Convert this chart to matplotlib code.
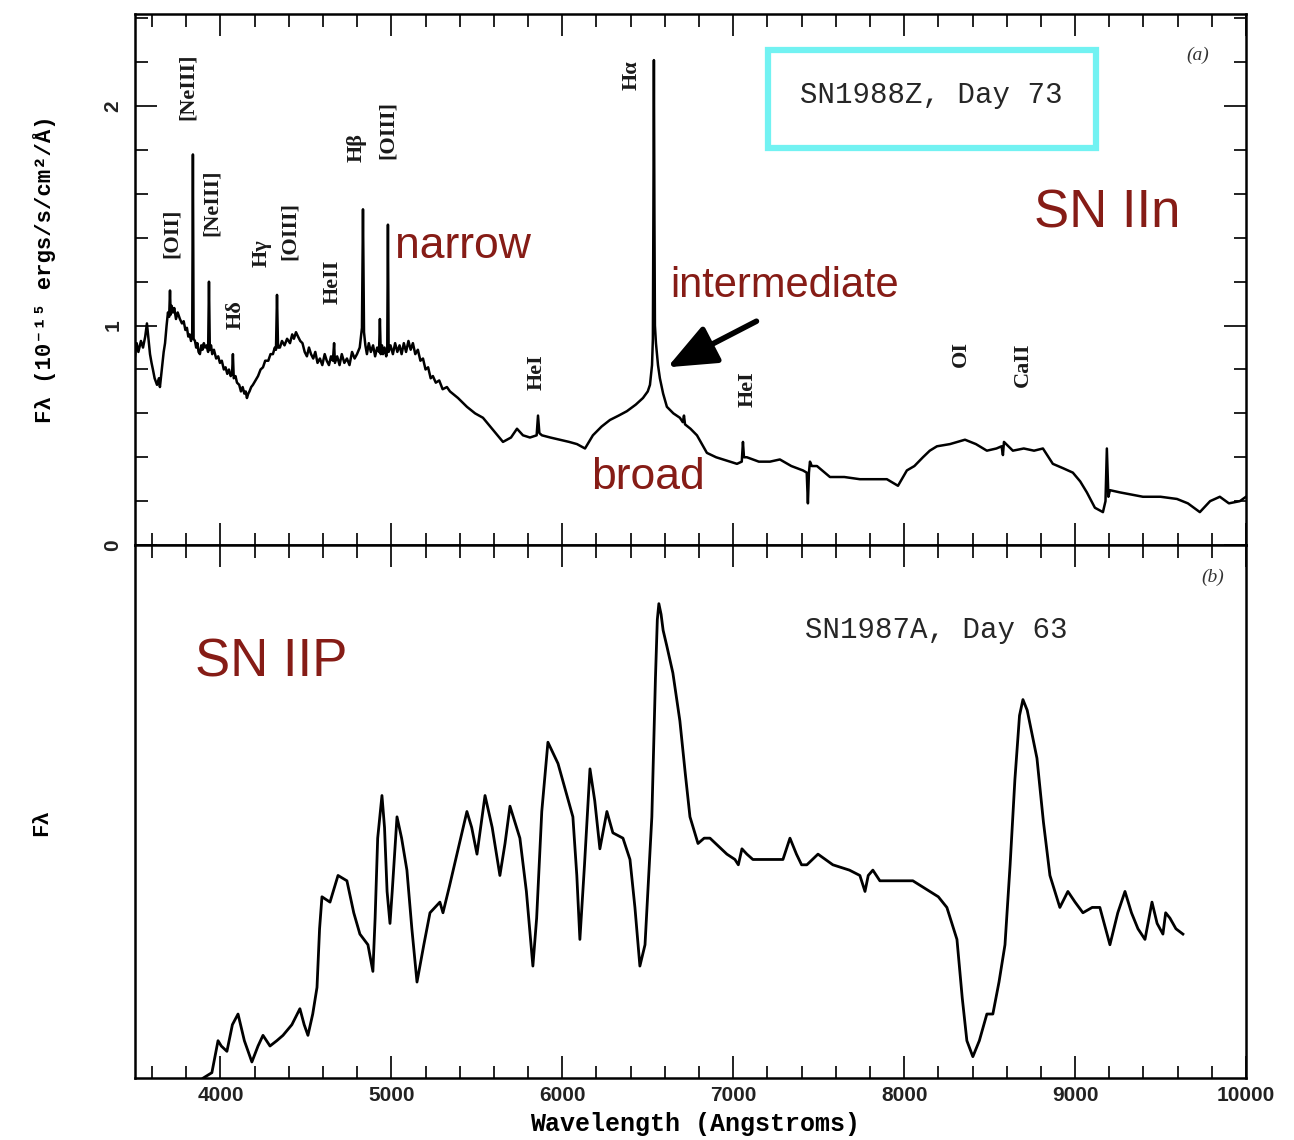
import matplotlib
matplotlib.use('Agg')
import matplotlib.pyplot as plt
from matplotlib.ticker import MultipleLocator
from matplotlib.patches import Rectangle
from matplotlib import font_manager

# ---------------- data: SN1988Z, day 73 (top panel) ----------------
top_wave = [3500, 3510, 3520, 3535, 3547, 3560, 3570, 3580, 3588, 3597,
            3605, 3615, 3629, 3640, 3646, 3660, 3668, 3676, 3685, 3693,
            3700, 3705, 3709, 3715, 3722, 3730, 3740, 3750, 3763, 3775,
            3785, 3795, 3804, 3812, 3820, 3828, 3835, 3839, 3843, 3851,
            3858, 3865, 3872, 3880, 3888, 3895, 3903, 3910, 3920, 3928,
            3933, 3938, 3945, 3952, 3962, 3975, 3987, 3997, 4008, 4020,
            4030, 4040, 4050, 4060, 4068, 4073, 4078, 4088, 4097, 4110,
            4120, 4130, 4140, 4148, 4155, 4163, 4170, 4180, 4190, 4205,
            4220, 4235, 4249, 4262, 4280, 4293, 4307, 4318, 4325, 4331,
            4337, 4348, 4360, 4375, 4390, 4407, 4420, 4430, 4442, 4454,
            4467, 4480, 4493, 4506, 4518, 4530, 4543, 4555, 4568, 4582,
            4596, 4610, 4622, 4635, 4647, 4658, 4665, 4670, 4683, 4697,
            4710, 4725, 4740, 4755, 4770, 4785, 4799, 4815, 4828, 4834,
            4840, 4848, 4857, 4868, 4880, 4893, 4905, 4917, 4928, 4933,
            4938, 4945, 4951, 4960, 4970, 4976, 4980, 4984, 4995, 5009,
            5022, 5035, 5048, 5060, 5073, 5086, 5100, 5113, 5126, 5140,
            5155, 5170, 5185, 5200, 5215, 5230, 5243, 5260, 5280, 5300,
            5325, 5343, 5390, 5442, 5490, 5536, 5600, 5653, 5700, 5735,
            5770, 5811, 5850, 5858, 5866, 5881, 5930, 5986, 6040, 6086,
            6133, 6179, 6230, 6279, 6330, 6378, 6430, 6472, 6500, 6513,
            6525, 6530, 6533, 6536, 6539, 6542, 6548, 6560, 6571, 6590,
            6612, 6650, 6688, 6705, 6712, 6718, 6750, 6788, 6846, 6900,
            6940, 6980, 7022, 7050, 7057, 7063, 7080, 7150, 7215, 7273,
            7340, 7408, 7430, 7437, 7443, 7449, 7460, 7490, 7566, 7650,
            7741, 7820, 7899, 7964, 8016, 8060, 8110, 8150, 8192, 8268,
            8356, 8420, 8484, 8540, 8570, 8578, 8584, 8636, 8700, 8760,
            8812, 8870, 8930, 8987, 9030, 9069, 9116, 9163, 9178, 9186,
            9195, 9204, 9262, 9330, 9397, 9500, 9596, 9660, 9730, 9790,
            9847, 9900, 9964, 10000]
top_flux = [0.86, 0.92, 0.88, 0.93, 0.90, 0.95, 1.01, 0.93, 0.87, 0.83,
            0.80, 0.76, 0.73, 0.76, 0.72, 0.82, 0.88, 0.92, 1.00, 1.06,
            1.04, 1.16, 1.05, 1.09, 1.06, 1.08, 1.03, 1.06, 1.03, 1.01,
            1.02, 0.98, 0.99, 0.95, 0.96, 0.93, 0.96, 1.78, 0.94, 0.93,
            0.90, 0.92, 0.88, 0.87, 0.91, 0.89, 0.92, 0.90, 0.91, 0.88,
            1.20, 0.89, 0.91, 0.87, 0.89, 0.85, 0.86, 0.83, 0.84, 0.80,
            0.81, 0.78, 0.80, 0.77, 0.78, 0.87, 0.76, 0.77, 0.74, 0.73,
            0.70, 0.72, 0.69, 0.70, 0.67, 0.69, 0.70, 0.72, 0.73, 0.75,
            0.77, 0.80, 0.81, 0.84, 0.84, 0.87, 0.87, 0.90, 0.89, 1.14,
            0.90, 0.90, 0.93, 0.91, 0.94, 0.92, 0.96, 0.94, 0.97, 0.95,
            0.93, 0.92, 0.88, 0.86, 0.90, 0.87, 0.85, 0.88, 0.83, 0.85,
            0.82, 0.87, 0.84, 0.82, 0.86, 0.84, 0.92, 0.83, 0.86, 0.82,
            0.87, 0.83, 0.85, 0.82, 0.88, 0.85, 0.87, 0.90, 0.99, 1.53,
            0.97, 0.91, 0.87, 0.92, 0.88, 0.91, 0.86, 0.90, 0.88, 1.03,
            0.87, 0.91, 0.87, 0.90, 0.86, 0.89, 1.46, 0.88, 0.91, 0.87,
            0.92, 0.88, 0.91, 0.87, 0.92, 0.88, 0.93, 0.89, 0.92, 0.87,
            0.89, 0.84, 0.85, 0.80, 0.81, 0.76, 0.77, 0.74, 0.75, 0.71,
            0.72, 0.70, 0.67, 0.63, 0.60, 0.58, 0.52, 0.47, 0.49, 0.53,
            0.50, 0.49, 0.50, 0.59, 0.51, 0.50, 0.49, 0.48, 0.47, 0.46,
            0.44, 0.50, 0.54, 0.57, 0.59, 0.61, 0.64, 0.67, 0.70, 0.73,
            0.82, 0.94, 1.50, 2.21, 1.50, 1.00, 0.92, 0.82, 0.76, 0.69,
            0.63, 0.60, 0.58, 0.56, 0.59, 0.55, 0.53, 0.50, 0.42, 0.40,
            0.39, 0.38, 0.37, 0.38, 0.47, 0.40, 0.40, 0.38, 0.38, 0.39,
            0.36, 0.34, 0.33, 0.19, 0.33, 0.38, 0.36, 0.36, 0.31, 0.31,
            0.30, 0.30, 0.30, 0.27, 0.34, 0.36, 0.40, 0.43, 0.45, 0.46,
            0.48, 0.46, 0.43, 0.44, 0.45, 0.41, 0.47, 0.43, 0.44, 0.43,
            0.44, 0.37, 0.35, 0.33, 0.29, 0.24, 0.17, 0.15, 0.20, 0.44,
            0.22, 0.25, 0.24, 0.23, 0.22, 0.22, 0.21, 0.19, 0.15, 0.20,
            0.22, 0.19, 0.20, 0.22]

# ---------------- data: SN1987A, day 63 (bottom panel, arbitrary units) ----------------
bot_wave = [3900, 3950, 3986, 4005, 4038, 4070, 4103, 4140, 4184, 4220,
            4249, 4290, 4330, 4366, 4418, 4465, 4490, 4512, 4540, 4565,
            4580, 4594, 4641, 4688, 4740, 4780, 4816, 4863, 4892, 4905,
            4920, 4945, 4960, 4975, 4992, 5005, 5033, 5060, 5091, 5120,
            5150, 5190, 5226, 5284, 5302, 5340, 5384, 5442, 5470, 5501,
            5548, 5590, 5635, 5665, 5694, 5752, 5790, 5828, 5850, 5880,
            5916, 5975, 6062, 6085, 6103, 6130, 6162, 6190, 6220, 6261,
            6296, 6355, 6396, 6425, 6454, 6484, 6524, 6545, 6556, 6565,
            6578, 6590, 6612, 6647, 6688, 6720, 6747, 6794, 6830, 6864,
            6963, 7010, 7030, 7051, 7080, 7115, 7200, 7291, 7332, 7370,
            7400, 7431, 7496, 7583, 7680, 7741, 7771, 7790, 7817, 7858,
            7950, 8051, 8150, 8200, 8250, 8309, 8340, 8367, 8402, 8440,
            8484, 8519, 8555, 8590, 8620, 8648, 8675, 8695, 8720, 8777,
            8815, 8853, 8911, 8958, 9000, 9046, 9100, 9145, 9204, 9250,
            9292, 9330, 9368, 9409, 9450, 9480, 9514, 9530, 9555, 9590,
            9631]
bot_flux = [0.00, 0.01, 0.07, 0.06, 0.05, 0.10, 0.12, 0.07, 0.03, 0.06,
            0.08, 0.06, 0.07, 0.08, 0.10, 0.13, 0.10, 0.08, 0.12, 0.17,
            0.28, 0.34, 0.33, 0.38, 0.37, 0.31, 0.27, 0.25, 0.20, 0.30,
            0.45, 0.53, 0.47, 0.35, 0.29, 0.35, 0.49, 0.45, 0.39, 0.28,
            0.18, 0.25, 0.31, 0.33, 0.31, 0.36, 0.42, 0.50, 0.47, 0.42,
            0.53, 0.47, 0.38, 0.44, 0.51, 0.45, 0.35, 0.21, 0.30, 0.50,
            0.63, 0.59, 0.49, 0.38, 0.26, 0.40, 0.58, 0.52, 0.43, 0.50,
            0.46, 0.45, 0.41, 0.32, 0.21, 0.25, 0.49, 0.75, 0.86, 0.89,
            0.87, 0.84, 0.81, 0.76, 0.67, 0.57, 0.49, 0.44, 0.45, 0.45,
            0.42, 0.41, 0.40, 0.43, 0.42, 0.41, 0.41, 0.41, 0.45, 0.42,
            0.40, 0.40, 0.42, 0.40, 0.39, 0.38, 0.35, 0.38, 0.39, 0.37,
            0.37, 0.37, 0.35, 0.34, 0.32, 0.26, 0.15, 0.07, 0.04, 0.07,
            0.12, 0.12, 0.18, 0.25, 0.40, 0.56, 0.68, 0.71, 0.69, 0.60,
            0.48, 0.38, 0.32, 0.35, 0.33, 0.31, 0.32, 0.32, 0.25, 0.31,
            0.35, 0.31, 0.28, 0.26, 0.33, 0.29, 0.27, 0.31, 0.30, 0.28,
            0.27]

# ---------------- line identifications (top panel) ----------------
line_labels = ['[OII]', '[NeIII]', '[NeIII]', 'Hδ', 'Hγ', '[OIII]', 'HeII',
               'Hβ', '[OIII]', 'HeI', 'Hα', 'HeI', 'OI', 'CaII']
line_label_wave = [3716, 3810, 3950, 4091, 4243, 4407, 4658,
                   4799, 4980, 5852, 6407, 7086, 8332, 8695]
line_label_flux = [1.42, 2.09, 1.56, 1.05, 1.33, 1.43, 1.20,
                   1.81, 1.89, 0.79, 2.14, 0.71, 0.87, 0.82]

x_ticks = [4000, 5000, 6000, 7000, 8000, 9000, 10000]
x_tick_labels = ['4000', '5000', '6000', '7000', '8000', '9000', '10000']
y_ticks = [0, 1, 2]
y_tick_labels = ['0', '1', '2']

# ---------------- styling ----------------
names = {f.name for f in font_manager.fontManager.ttflist}
if 'Liberation Sans Narrow' in names:
    ann_family = ['Liberation Sans Narrow', 'DejaVu Sans']
    s_word, s_inter, s_sn = 39, 36, 46
else:
    ann_family = ['Liberation Sans', 'DejaVu Sans']
    s_word, s_inter, s_sn = 32, 30, 38
red = '#861c16'
mono = ['Liberation Mono', 'DejaVu Sans Mono']
serif = ['Liberation Serif', 'DejaVu Serif']
sans = ['Liberation Sans', 'DejaVu Sans']

fig = plt.figure(figsize=(12.94, 11.40), dpi=100)
ax1 = fig.add_axes([0.1043, 0.5219, 0.8586, 0.4658])
ax2 = fig.add_axes([0.1043, 0.0544, 0.8586, 0.4675])

for ax in (ax1, ax2):
    ax.set_xlim(3500, 10000)
    ax.xaxis.set_major_locator(MultipleLocator(1000))
    ax.xaxis.set_minor_locator(MultipleLocator(200))
    for sp in ax.spines.values():
        sp.set_linewidth(1.8)
    ax.tick_params(which='both', direction='in', width=1.4, colors='#222222')
    ax.tick_params(which='major', length=16)
    ax.tick_params(which='minor', length=9)

# top panel
ax1.plot(top_wave, top_flux, color='black', lw=1.8)
ax1.set_ylim(0, 2.42)
ax1.yaxis.set_major_locator(MultipleLocator(1))
ax1.yaxis.set_minor_locator(MultipleLocator(0.2))
ax1.tick_params(which='both', top=True, bottom=True, left=True, right=True,
                labelbottom=False)
ax1.set_yticks(y_ticks)
ax1.set_yticklabels(y_tick_labels, rotation=90, va='center',
                    fontsize=15, fontweight='bold', family=sans)
ax1.tick_params(axis='y', pad=9)
ax1.set_ylabel('Fλ (10⁻¹⁵ ergs/s/cm²/Å)', fontsize=16, fontweight='bold',
               family=mono)
ax1.yaxis.set_label_coords(-0.071, 0.52)

for lab, w, f in zip(line_labels, line_label_wave, line_label_flux):
    ax1.text(w, f, lab, rotation=90, ha='center', va='center',
             fontsize=16, fontweight='bold', family=serif, color='#1a1a1a')

ax1.text(9719, 2.23, '(a)', fontsize=14, style='italic', family=serif,
         ha='center', va='center', color='#333333')
ax1.add_patch(Rectangle((7203, 1.81), 9122 - 7203, 2.256 - 1.81, fill=False,
                        ec='#72f2f2', lw=4.5, zorder=5))
ax1.text(8157, 2.05, 'SN1988Z, Day 73', fontsize=21, family=mono,
         ha='center', va='center', color='#262626')
ax1.text(9186, 1.51, 'SN IIn', fontsize=s_sn, family=ann_family,
         ha='center', va='center', color=red)
ax1.text(5419, 1.36, 'narrow', fontsize=s_word, family=ann_family,
         ha='center', va='center', color=red)
ax1.text(7302, 1.18, 'intermediate', fontsize=s_inter, family=ann_family,
         ha='center', va='center', color=red)
ax1.text(6501, 0.31, 'broad', fontsize=s_word, family=ann_family,
         ha='center', va='center', color=red)
ax1.annotate('', xy=(6615, 0.81), xytext=(7136, 1.02),
             arrowprops=dict(arrowstyle='-|>,head_length=0.6,head_width=0.25',
                             mutation_scale=50, lw=4, color='black',
                             shrinkA=0, shrinkB=0))

# bottom panel
ax2.plot(bot_wave, bot_flux, color='black', lw=2.0)
ax2.set_ylim(0, 1)
ax2.set_yticks([])
ax2.tick_params(which='both', top=True, bottom=True, left=False, right=False)
ax2.set_xticks(x_ticks)
ax2.set_xticklabels(x_tick_labels, fontsize=15, fontweight='bold',
                    family=sans)
ax2.tick_params(axis='x', pad=6)
ax2.set_xlabel('Wavelength (Angstroms)', fontsize=18, fontweight='bold',
               family=mono)
ax2.xaxis.set_label_coords(0.504, -0.064)
ax2.set_ylabel('Fλ', fontsize=16, fontweight='bold', family=mono)
ax2.yaxis.set_label_coords(-0.075, 0.48)

ax2.text(9806, 0.94, '(b)', fontsize=14, style='italic', family=serif,
         ha='center', va='center', color='#333333')
ax2.text(8186, 0.84, 'SN1987A, Day 63', fontsize=21, family=mono,
         ha='center', va='center', color='#262626')
ax2.text(3851, 0.78, 'SN IIP', fontsize=s_sn, family=ann_family,
         ha='left', va='center', color=red)

fig.savefig('out.png', dpi=100)
